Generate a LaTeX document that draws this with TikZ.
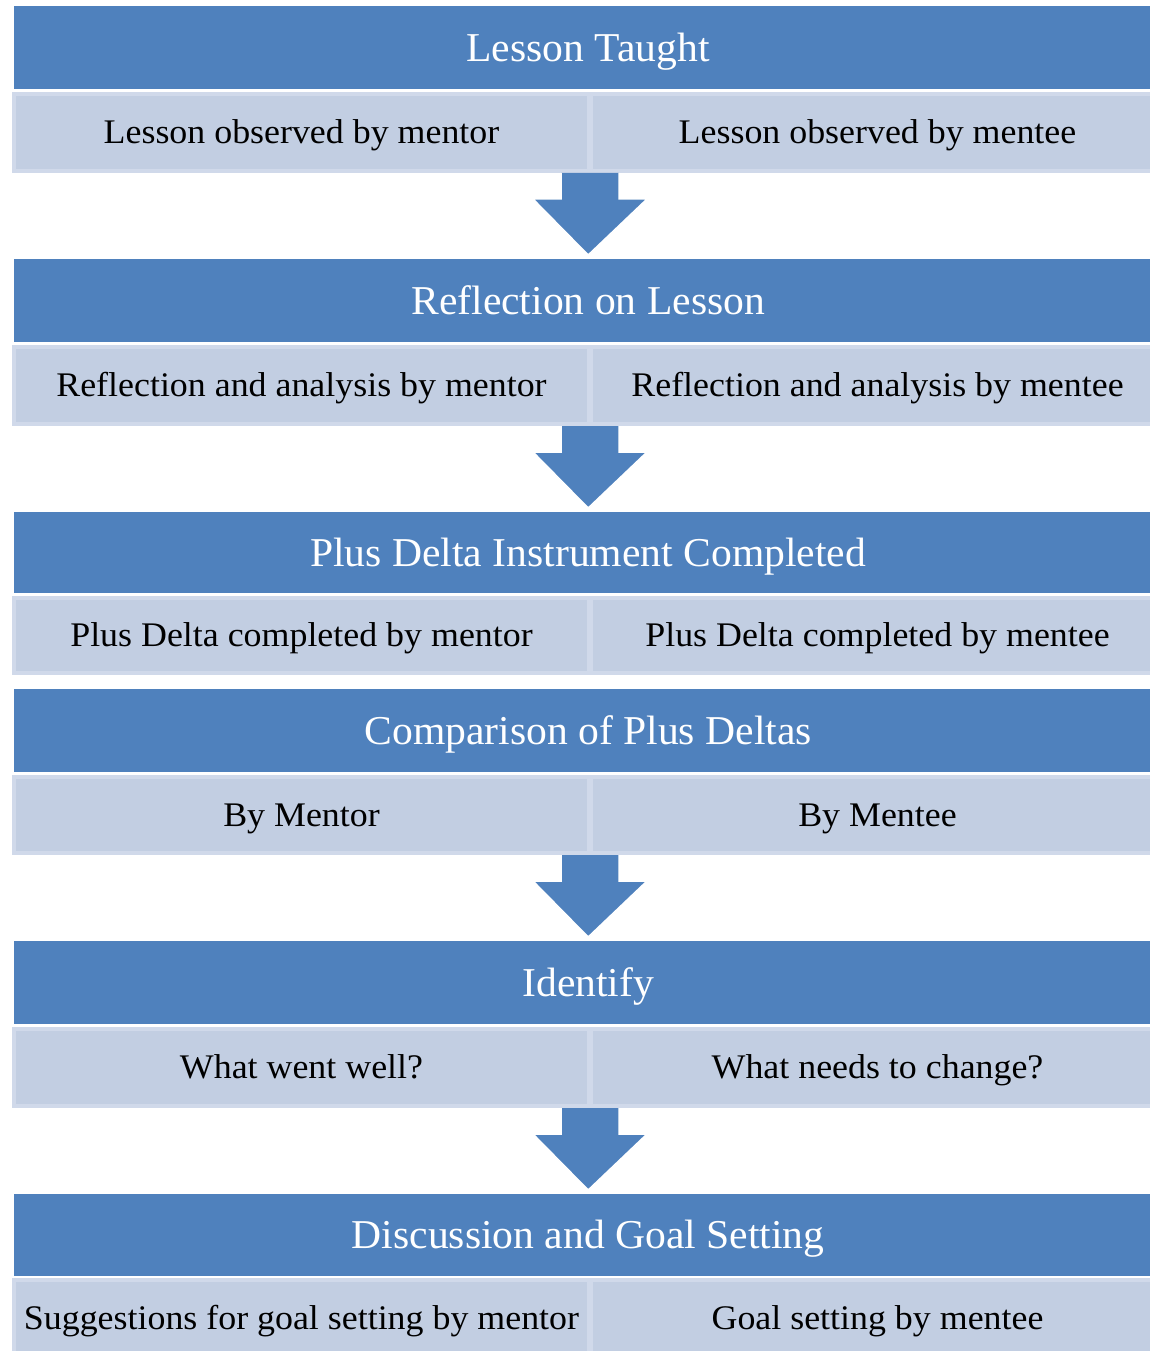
\documentclass[tikz,border=0pt]{standalone}
\usepackage{fontspec}
\setmainfont{Liberation Serif}
\newfontfamily\hdfont[FakeStretch=1.015]{Liberation Serif}
\newfontfamily\cellfont[FakeStretch=1.04]{Liberation Serif}
\usetikzlibrary{calc}
\definecolor{darkblue}{HTML}{4F81BD}
\definecolor{cellfill}{HTML}{C2CEE2}
\definecolor{cellline}{HTML}{D0D9EA}
\newcommand\flowarrow[2]{%
  \draw[blockarrow] ($(#1)+(-29,0)$) -- ($(#1)+(-29,26)$) -- ($(#1)+(-57,26)$) -- (#2)
    -- ($(#1)+(57,26)$) -- ($(#1)+(29,26)$) -- ($(#1)+(29,0)$);}
\begin{document}
\begin{tikzpicture}[x=1pt,y=-1pt,
  band/.style={fill=darkblue, draw=none, minimum width=1148pt, inner sep=0pt,
    font=\hdfont\fontsize{41}{41}\selectfont, text=white, text height=27pt, text depth=0pt, anchor=north west},
  cellL/.style={fill=cellfill, draw=cellline, line width=4pt, inner sep=0pt, minimum width=575pt,
    font=\cellfont\fontsize{34.5}{34.5}\selectfont, text=black, text height=22.5pt, text depth=0pt, anchor=north west},
  cellR/.style={cellL, minimum width=573pt},
  blockarrow/.style={fill=darkblue, draw=white, line width=1.5pt, line join=miter}]
\useasboundingbox (0,0) rectangle (1150,1351);
\clip (0,0) rectangle (1150,1351);

% Row 1
\node[band, minimum height=83pt] (t1) at (14,6) {Lesson Taught};
\node[cellL, minimum height=77pt] (l1) at (12,92) {Lesson observed by mentor};
\node[cellR, minimum height=77pt] (r1) at (589,92) {Lesson observed by mentee};
% Row 2
\node[band, minimum height=83pt] (t2) at (14,259) {Reflection on Lesson};
\node[cellL, minimum height=77pt] (l2) at (12,345) {Reflection and analysis by mentor};
\node[cellR, minimum height=77pt] (r2) at (589,345) {Reflection and analysis by mentee};
% Row 3
\node[band, minimum height=81pt] (t3) at (14,512) {Plus Delta Instrument Completed};
\node[cellL, minimum height=75pt] (l3) at (12,596) {Plus Delta completed by mentor};
\node[cellR, minimum height=75pt] (r3) at (589,596) {Plus Delta completed by mentee};
% Row 4
\node[band, minimum height=83pt] (t4) at (14,689) {Comparison of Plus Deltas};
\node[cellL, minimum height=76pt] (l4) at (12,775) {By Mentor};
\node[cellR, minimum height=76pt] (r4) at (589,775) {By Mentee};
% Row 5
\node[band, minimum height=83pt] (t5) at (14,941) {Identify};
\node[cellL, minimum height=77pt] (l5) at (12,1027) {What went well?};
\node[cellR, minimum height=77pt] (r5) at (589,1027) {What needs to change?};
% Row 6
\node[band, minimum height=82pt] (t6) at (14,1194) {Discussion and Goal Setting};
\node[cellL, minimum height=77pt] (l6) at (12,1278) {Suggestions for goal setting by mentor};
\node[cellR, minimum height=77pt] (r6) at (589,1278) {Goal setting by mentee};

% Arrows
\coordinate (s1) at ($(l1.south east)!0.5!(r1.south west)$);
\coordinate (e1) at ($(t2.north)+(0,-4)$);
\flowarrow{s1}{e1}
\coordinate (s2) at ($(l2.south east)!0.5!(r2.south west)$);
\coordinate (e2) at ($(t3.north)+(0,-4)$);
\flowarrow{s2}{e2}
\coordinate (s4) at ($(l4.south east)!0.5!(r4.south west)$);
\coordinate (e4) at ($(t5.north)+(0,-4)$);
\flowarrow{s4}{e4}
\coordinate (s5) at ($(l5.south east)!0.5!(r5.south west)$);
\coordinate (e5) at ($(t6.north)+(0,-4)$);
\flowarrow{s5}{e5}
\end{tikzpicture}
\end{document}
